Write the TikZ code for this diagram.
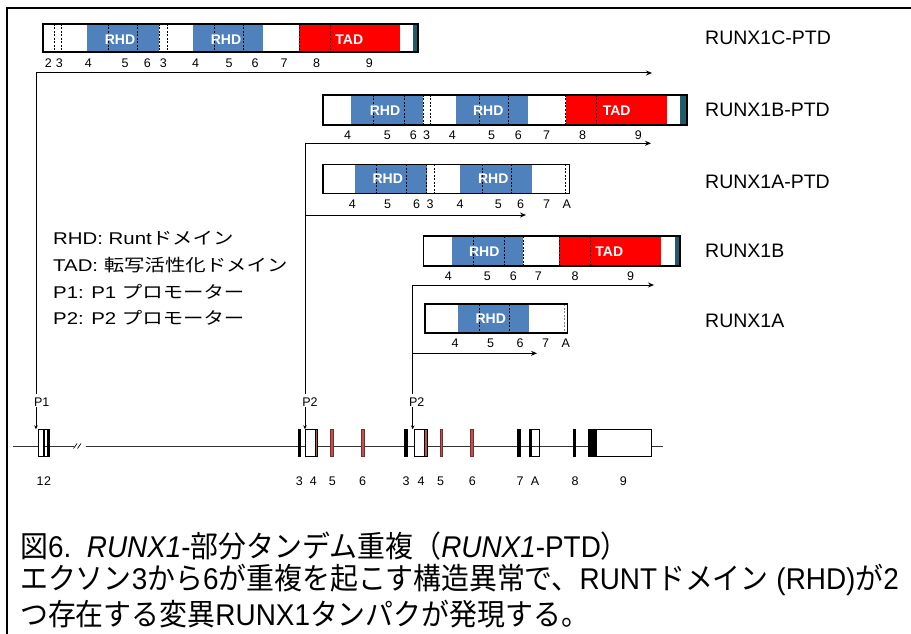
\documentclass[tikz,border=0pt]{standalone}
\usepackage{fontspec}
\setmainfont{Liberation Sans}
\newfontfamily\jp{Noto Sans CJK JP}
\newfontfamily\lgla[FakeStretch=1.2]{Liberation Sans}
\newfontfamily\lgjp[FakeStretch=1.2]{Noto Sans CJK JP}
\newfontfamily\cpla[FakeStretch=0.93]{Liberation Sans}
\newfontfamily\cpjp[FakeStretch=0.93]{Noto Sans CJK JP}
\usetikzlibrary{arrows.meta}
\definecolor{rhdblue}{HTML}{4F81BD}
\definecolor{tadred}{HTML}{FF0000}
\definecolor{cterm}{HTML}{215A69}
\definecolor{exred}{HTML}{C0504D}
\newcommand\LJ[1]{{\lgjp #1}}
\newcommand\CJ[1]{{\cpjp #1}}
\tikzset{
  lbl/.style={font=\fontsize{12.5}{13}\selectfont, inner sep=0pt},
  dom/.style={font=\fontsize{14}{14}\selectfont\bfseries, text=white, inner sep=0pt},
  pname/.style={font=\fontsize{19.5}{20}\selectfont, anchor=west, inner sep=0pt},
  leg/.style={font=\fontsize{17}{18}\selectfont\lgla, anchor=west, inner sep=0pt},
  capt/.style={font=\fontsize{30}{32}\selectfont\cpla, anchor=west, inner sep=0pt},
  arr/.style={-{Stealth[length=6pt,width=5pt]}, line width=1pt},
  parr/.style={-{Stealth[length=4pt,width=3.5pt]}, line width=0.6pt},
  dsh/.style={line width=0.6pt, dash pattern=on 2pt off 1.5pt},
  pbox/.style={line width=1.6pt},
  exo/.style={line width=0.8pt}
}
\begin{document}
\begin{tikzpicture}[x=1pt,y=-1pt]
\useasboundingbox (0,0) rectangle (911,634);
% frame
\draw[line width=2pt] (7,634) -- (7,8) -- (911,8);

% ---------- Row 1: RUNX1C-PTD ----------
\fill[rhdblue] (87.3,24) rectangle (159.3,52);
\fill[rhdblue] (193,24) rectangle (263.3,52);
\fill[tadred] (299.3,24) rectangle (400,52);
\fill[cterm] (412.7,24) rectangle (417.5,52);
\foreach \x in {54.3,61,108.7,137.7,159.3,167.7,214.3,243.7,299.3,330.3}
  \draw[dsh] (\x,24) -- (\x,52);
\draw[pbox] (42.7,24) rectangle (418,52);
\node[dom] (r1d1) at (120,39.3) {RHD};
\node[dom] (r1d2) at (226,39.3) {RHD};
\node[dom] (r1d3) at (349.3,39.3) {TAD};
\foreach \x/\t [count=\k] in {48.3/2,59.3/3,88.3/4,125/5,147.3/6,163.3/3,195.7/4,229/5,255/6,284/7,316.7/8,369.3/9}
  \node[lbl] (r1l\k) at (\x,63.3) {\t};
\node[pname] (n1) at (705,38) {RUNX1C-PTD};

% ---------- Row 2: RUNX1B-PTD ----------
\fill[rhdblue] (351,95) rectangle (423.3,125);
\fill[rhdblue] (456,95) rectangle (528.3,125);
\fill[tadred] (565.7,95) rectangle (666.7,125);
\fill[cterm] (680,95) rectangle (686.2,125);
\foreach \x in {373.3,404,423.3,430,479,508.3,565.7,596.7}
  \draw[dsh] (\x,95) -- (\x,125);
\draw[pbox] (322.7,95) rectangle (686.7,125);
\node[dom] (r2d1) at (385,111) {RHD};
\node[dom] (r2d2) at (488.3,111) {RHD};
\node[dom] (r2d3) at (616.7,111) {TAD};
\foreach \x/\t [count=\k] in {347.7/4,387.3/5,413.3/6,426.7/3,452.3/4,491.7/5,518.3/6,546.7/7,582.7/8,638.3/9}
  \node[lbl] (r2l\k) at (\x,135) {\t};
\node[pname] (n2) at (705,110) {RUNX1B-PTD};

% ---------- Row 3: RUNX1A-PTD ----------
\fill[rhdblue] (355,164.3) rectangle (426.7,193.3);
\fill[rhdblue] (460,164.3) rectangle (531.7,193.3);
\foreach \x in {376,406.7,426.7,434,482.3,511.7,565}
  \draw[dsh] (\x,164.3) -- (\x,193.3);
\draw[pbox] (322.7,164.3) rectangle (569.3,193.3);
\node[dom] (r3d1) at (387.7,178.3) {RHD};
\node[dom] (r3d2) at (493.3,178.3) {RHD};
\foreach \x/\t [count=\k] in {352.3/4,387.7/5,416.7/6,430/3,460/4,498.3/5,520.7/6,546.7/7,566.7/A}
  \node[lbl] (r3l\k) at (\x,204.3) {\t};
\node[pname] (n3) at (705,182) {RUNX1A-PTD};

% ---------- Row 4: RUNX1B ----------
\fill[rhdblue] (451.7,236) rectangle (523.3,265.7);
\fill[tadred] (559.3,236) rectangle (660.7,265.7);
\fill[cterm] (675.3,236) rectangle (679.8,265.7);
\foreach \x in {473.3,504,523.3,559.3,590.7}
  \draw[dsh] (\x,236) -- (\x,265.7);
\draw[pbox] (423.3,236) rectangle (680,265.7);
\node[dom] (r4d1) at (484.3,251.7) {RHD};
\node[dom] (r4d2) at (609.3,251.7) {TAD};
\foreach \x/\t [count=\k] in {448.3/4,487.3/5,513.3/6,538.3/7,575/8,630.7/9}
  \node[lbl] (r4l\k) at (\x,276) {\t};
\node[pname] (n4) at (705,251) {RUNX1B};

% ---------- Row 5: RUNX1A ----------
\fill[rhdblue] (458.3,304) rectangle (529.3,332.7);
\foreach \x in {479,509.3}
  \draw[dsh] (\x,304) -- (\x,332.7);
\draw[dsh,gray] (564,304) -- (564,332.7);
\draw[pbox] (425,304) rectangle (567.3,332.7);
\node[dom] (r5d1) at (490.7,318.3) {RHD};
\foreach \x/\t [count=\k] in {455/4,490.7/5,520/6,545.7/7,565.7/A}
  \node[lbl] (r5l\k) at (\x,343.3) {\t};
\node[pname] (n5) at (705,321) {RUNX1A};

% ---------- legend ----------
\node[leg] (lg1) at (53,238.3) {RHD: Runt\LJ{ドメイン}};
\node[leg] (lg2) at (53,265) {TAD: \LJ{転写活性化ドメイン}};
\node[leg] (lg3) at (53,291.7) {P1: P1 \LJ{プロモーター}};
\node[leg] (lg4) at (53,317.7) {P2: P2 \LJ{プロモーター}};

% ---------- transcript arrows ----------
\coordinate (s1) at (36,394);
\coordinate (e1) at (652,73);
\coordinate (s2) at (305,394);
\coordinate (e2) at (651,143.3);
\coordinate (b3) at (305,215);
\coordinate (e3) at (526,215);
\coordinate (s4) at (412.7,394);
\coordinate (e4) at (654,285);
\coordinate (b5) at (412.7,353.3);
\coordinate (e5) at (537,353.3);
\draw[arr] (s1) |- (e1);
\draw[arr] (s2) |- (e2);
\draw[arr] (b3) -- (e3);
\draw[arr] (s4) |- (e4);
\draw[arr] (b5) -- (e5);

% ---------- gene map ----------
\draw[line width=0.8pt, black!80] (13.3,446) -- (73.5,446);
\draw[line width=0.7pt] (73.5,448.5) -- (77,443.5);
\draw[line width=0.7pt] (77.5,448.5) -- (81,443.5);
\draw[line width=0.8pt, black!80] (85.7,446) -- (662.7,446);
% exons
\filldraw[fill=white, exo] (38.3,429.3) rectangle (43.3,456.7);
\fill[black] (46.7,429.3) rectangle (49.3,456.7);
\draw[exo] (44.3,429.3) rectangle (49.3,456.7);
\fill[black] (297.7,429.3) rectangle (301,456.7);
\fill[exred] (315,429.3) rectangle (317.7,456.7);
\filldraw[fill=white, exo] (305.7,429.3) rectangle (315,456.7);
\draw[exo] (315,429.3) rectangle (317.7,456.7);
\filldraw[fill=exred, draw=exred!60!black, line width=0.5pt] (330.7,429.3) rectangle (333.7,456.7);
\filldraw[fill=exred, draw=exred!60!black, line width=0.5pt] (361.7,429.3) rectangle (364,456.7);
\fill[black] (404.3,429.3) rectangle (407.7,456.7);
\fill[exred] (424,429.3) rectangle (427.7,456.7);
\filldraw[fill=white, exo] (414,429.3) rectangle (424,456.7);
\draw[exo] (424,429.3) rectangle (427.7,456.7);
\filldraw[fill=exred, draw=exred!60!black, line width=0.5pt] (440,429.3) rectangle (442.7,456.7);
\filldraw[fill=exred, draw=exred!60!black, line width=0.5pt] (470.3,429.3) rectangle (473.3,456.7);
\fill[black] (517.3,429.3) rectangle (520.7,456.7);
\fill[black] (529,429.3) rectangle (531.7,456.7);
\draw[exo] (529,429.3) rectangle (539.3,456.7);
\fill[black] (573.3,429.3) rectangle (576,456.7);
\fill[black] (588.3,429.3) rectangle (596,456.7);
\filldraw[fill=white, exo] (596,429.3) rectangle (651,456.7);
% promoters
\node[lbl] (P1) at (41.7,402.3) {P1};
\node[lbl] (P2a) at (310,402.3) {P2};
\node[lbl] (P2b) at (416.7,402.3) {P2};
\coordinate (t1) at (36,429.3);
\coordinate (t2) at (305,429.3);
\coordinate (t3) at (412.7,429.3);
\draw[parr] (t1 |- P1.south) -- (t1);
\draw[parr] (t2 |- P2a.south) -- (t2);
\draw[parr] (t3 |- P2b.south) -- (t3);
% exon numbers
\foreach \x/\t [count=\k] in {40/1,47.7/2,299.3/3,313.3/4,332.3/5,362.7/6,406/3,421/4,440.7/5,472.3/6,520/7,535/A,575/8,623.3/9}
  \node[lbl] (g\k) at (\x,481.5) {\t};

% ---------- caption ----------
\node[capt] (c1) at (20,546) {\CJ{図}6.\ \ \textit{RUNX1}-\CJ{部分タンデム重複（}\textit{RUNX1}-PTD\CJ{）}};
\node[capt] (c2) at (20,580) {\CJ{エクソン}3\CJ{から}6\CJ{が重複を起こす構造異常で、}RUNT\CJ{ドメイン} (RHD)\CJ{が}2};
\node[capt] (c3) at (20,614) {\CJ{つ存在する変異}RUNX1\CJ{タンパクが発現する。}};
\end{tikzpicture}
\end{document}
